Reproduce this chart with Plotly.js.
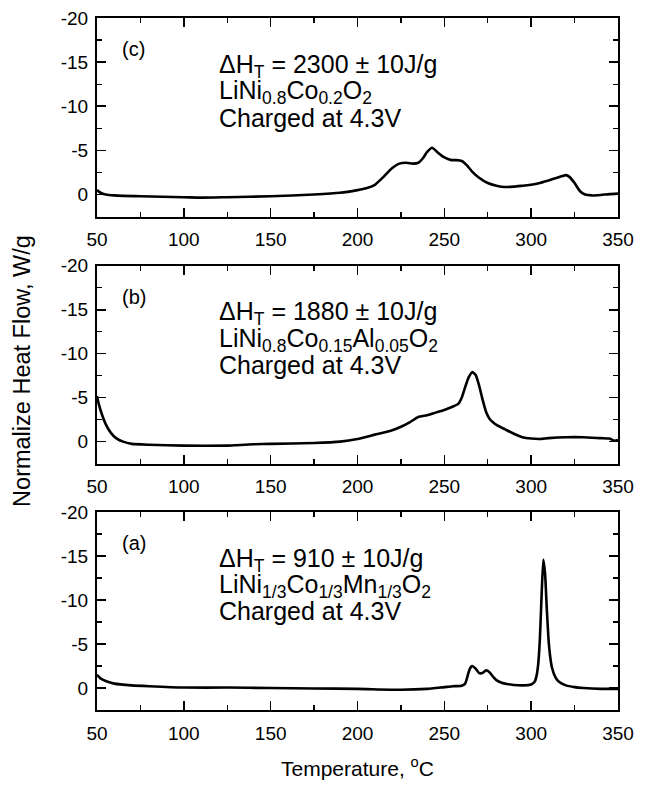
<!DOCTYPE html>
<html>
<head>
<meta charset="utf-8">
<script src="https://cdn.plot.ly/plotly-3.0.1.min.js"></script>
<style>html,body{margin:0;padding:0;background:#fff;}#chart{width:648px;height:786px;}</style>
</head>
<body>
<div id="chart"></div>
<script>
// ---- Data ----
// Panel (c): LiNi0.8Co0.2O2
const c_x = [50, 52, 55, 60, 75, 100, 110, 125, 150, 175, 190, 200, 205, 210, 215, 220, 224, 228, 232, 235, 238, 240, 243, 246, 250, 254, 257, 260, 263, 266, 270, 275, 280, 285, 290, 295, 300, 305, 310, 315, 318, 320, 322, 325, 328, 331, 335, 340, 345, 350];
const c_y = [-0.5, -0.2, 0.0, 0.1, 0.2, 0.3, 0.35, 0.3, 0.2, 0.0, -0.2, -0.5, -0.7, -1.1, -2.0, -3.0, -3.5, -3.6, -3.5, -3.6, -4.2, -4.8, -5.3, -4.8, -4.2, -3.9, -3.9, -3.8, -3.3, -2.6, -1.9, -1.3, -1.0, -0.85, -0.9, -1.0, -1.1, -1.3, -1.6, -1.9, -2.1, -2.2, -2.0, -1.3, -0.4, 0.0, 0.1, 0.05, -0.05, -0.1];
// Panel (b): LiNi0.8Co0.15Al0.05O2
const b_x = [50, 51, 53, 55, 58, 61, 65, 70, 80, 100, 125, 130, 140, 150, 175, 190, 200, 210, 220, 225, 230, 235, 240, 245, 250, 255, 258, 260, 262, 264, 266, 268, 270, 272, 274, 276, 278, 280, 285, 290, 295, 300, 305, 310, 320, 330, 340, 345, 348, 350];
const b_y = [-5.2, -4.3, -3.0, -2.0, -1.0, -0.4, 0.0, 0.25, 0.35, 0.45, 0.45, 0.4, 0.3, 0.25, 0.15, 0.0, -0.3, -0.8, -1.3, -1.7, -2.2, -2.8, -3.0, -3.3, -3.6, -4.0, -4.3, -5.0, -6.2, -7.3, -7.9, -7.6, -6.4, -4.8, -3.4, -2.6, -2.2, -1.9, -1.4, -0.9, -0.5, -0.35, -0.3, -0.4, -0.5, -0.5, -0.4, -0.35, -0.1, -0.2];
// Panel (a): LiNi1/3Co1/3Mn1/3O2
const a_x = [50, 52, 55, 60, 70, 80, 100, 125, 150, 175, 200, 225, 240, 250, 255, 260, 262, 264, 265, 266, 268, 270, 272, 274, 276, 278, 280, 283, 286, 290, 295, 300, 302, 303, 304, 305, 306, 307, 308, 309, 310, 311, 312, 314, 316, 320, 325, 330, 340, 350];
const a_y = [-1.5, -1.1, -0.8, -0.5, -0.3, -0.2, -0.05, -0.05, 0.0, 0.05, 0.1, 0.2, 0.1, -0.1, -0.2, -0.25, -0.5, -1.8, -2.3, -2.5, -2.2, -1.7, -1.7, -2.0, -1.8, -1.3, -0.9, -0.6, -0.45, -0.35, -0.3, -0.4, -0.7, -1.3, -2.6, -5.5, -10.5, -14.6, -13.0, -9.0, -5.5, -3.5, -2.3, -1.2, -0.7, -0.3, -0.1, 0.0, 0.1, 0.1];

// Axis ticks / labels
const xTickVals = [50, 100, 150, 200, 250, 300, 350];
const xMinorVals = [75, 125, 175, 225, 275, 325];
const yTickVals = [-20, -15, -10, -5, 0];
const yTickText = ["-20", "-15", "-10", "-5", "0"];
const yMinorVals = [-17.5, -12.5, -7.5, -2.5];

// Panel labels
const panelTags = ["(a)", "(b)", "(c)"];
const enthalpyText = ["\u0394H<sub>T</sub> = 910 \u00b1 10J/g", "\u0394H<sub>T</sub> = 1880 \u00b1 10J/g", "\u0394H<sub>T</sub> = 2300 \u00b1 10J/g"];
const formulaText = ["LiNi<sub>1/3</sub>Co<sub>1/3</sub>Mn<sub>1/3</sub>O<sub>2</sub>", "LiNi<sub>0.8</sub>Co<sub>0.15</sub>Al<sub>0.05</sub>O<sub>2</sub>", "LiNi<sub>0.8</sub>Co<sub>0.2</sub>O<sub>2</sub>"];
const chargeText = ["Charged at 4.3V", "Charged at 4.3V", "Charged at 4.3V"];

const FONT = "Liberation Sans, Arial, Helvetica, sans-serif";

function lineTrace(x, y, xa, ya) {
  return {x: x, y: y, xaxis: xa, yaxis: ya, type: 'scatter', mode: 'lines',
          line: {color: 'black', width: 2.6, shape: 'spline', smoothing: 0.5},
          hoverinfo: 'skip', showlegend: false};
}

const data = [
  lineTrace(a_x, a_y, 'x', 'y'),
  lineTrace(b_x, b_y, 'x2', 'y2'),
  lineTrace(c_x, c_y, 'x3', 'y3')
];

function xAxis(anchor) {
  return {
    anchor: anchor, domain: [0, 1], range: [50, 350],
    tickmode: 'array', tickvals: xTickVals,
    showline: true, linecolor: 'black', linewidth: 2, mirror: 'allticks',
    ticks: 'inside', ticklen: 9, tickwidth: 1.6, tickcolor: 'black',
    showgrid: false, zeroline: false,
    tickfont: {family: FONT, size: 19, color: 'black'},
    ticklabelstandoff: 5,
    minor: {tickmode: 'array', tickvals: xMinorVals, ticks: 'inside', ticklen: 5, tickwidth: 1.4, tickcolor: 'black', showgrid: false}
  };
}
function yAxis(anchor, domain) {
  return {
    anchor: anchor, domain: domain, range: [2.5, -20],
    tickmode: 'array', tickvals: yTickVals, ticktext: yTickText,
    showline: true, linecolor: 'black', linewidth: 2, mirror: 'allticks',
    ticks: 'inside', ticklen: 9, tickwidth: 1.6, tickcolor: 'black',
    showgrid: false, zeroline: false,
    tickfont: {family: FONT, size: 19, color: 'black'},
    ticklabelstandoff: 3,
    minor: {tickmode: 'array', tickvals: yMinorVals, ticks: 'inside', ticklen: 5, tickwidth: 1.4, tickcolor: 'black', showgrid: false}
  };
}

const domA = [0, 0.286], domB = [0.356, 0.642], domC = [0.713, 1];

const annotations = [];
const xrefs = ['x', 'x2', 'x3'];
const yrefs = ['y', 'y2', 'y3'];
for (let i = 0; i < 3; i++) {
  annotations.push({xref: xrefs[i], yref: yrefs[i], x: 63, y: -16.5, text: panelTags[i], showarrow: false,
    xanchor: 'left', yanchor: 'middle', font: {family: FONT, size: 20, color: 'black'}});
  annotations.push({xref: xrefs[i], yref: yrefs[i], x: 119, y: -14.6, text: enthalpyText[i], showarrow: false,
    xanchor: 'left', yanchor: 'middle', font: {family: FONT, size: 25, color: 'black'}});
  annotations.push({xref: xrefs[i], yref: yrefs[i], x: 119, y: -11.6, text: formulaText[i], showarrow: false,
    xanchor: 'left', yanchor: 'middle', font: {family: FONT, size: 25, color: 'black'}});
  annotations.push({xref: xrefs[i], yref: yrefs[i], x: 119, y: -8.7, text: chargeText[i], showarrow: false,
    xanchor: 'left', yanchor: 'middle', font: {family: FONT, size: 25, color: 'black'}});
}
annotations.push({xref: 'paper', yref: 'paper', x: -0.144, y: 0.49, text: 'Normalize Heat Flow, W/g',
  textangle: -90, showarrow: false, xanchor: 'center', yanchor: 'middle', font: {family: FONT, size: 23.5, color: 'black'}});
annotations.push({xref: 'paper', yref: 'paper', x: 0.5, y: -0.082, text: 'Temperature, <sup>o</sup>C',
  showarrow: false, xanchor: 'center', yanchor: 'middle', font: {family: FONT, size: 21, color: 'black'}});

const layout = {
  width: 648, height: 786,
  margin: {l: 97, r: 30, t: 18, b: 76},
  paper_bgcolor: 'white', plot_bgcolor: 'white',
  font: {family: FONT, color: 'black'},
  showlegend: false,
  xaxis: xAxis('y'), yaxis: yAxis('x', domA),
  xaxis2: xAxis('y2'), yaxis2: yAxis('x2', domB),
  xaxis3: xAxis('y3'), yaxis3: yAxis('x3', domC),
  annotations: annotations
};

Plotly.newPlot('chart', data, layout, {displayModeBar: false, staticPlot: true});
</script>
</body>
</html>
